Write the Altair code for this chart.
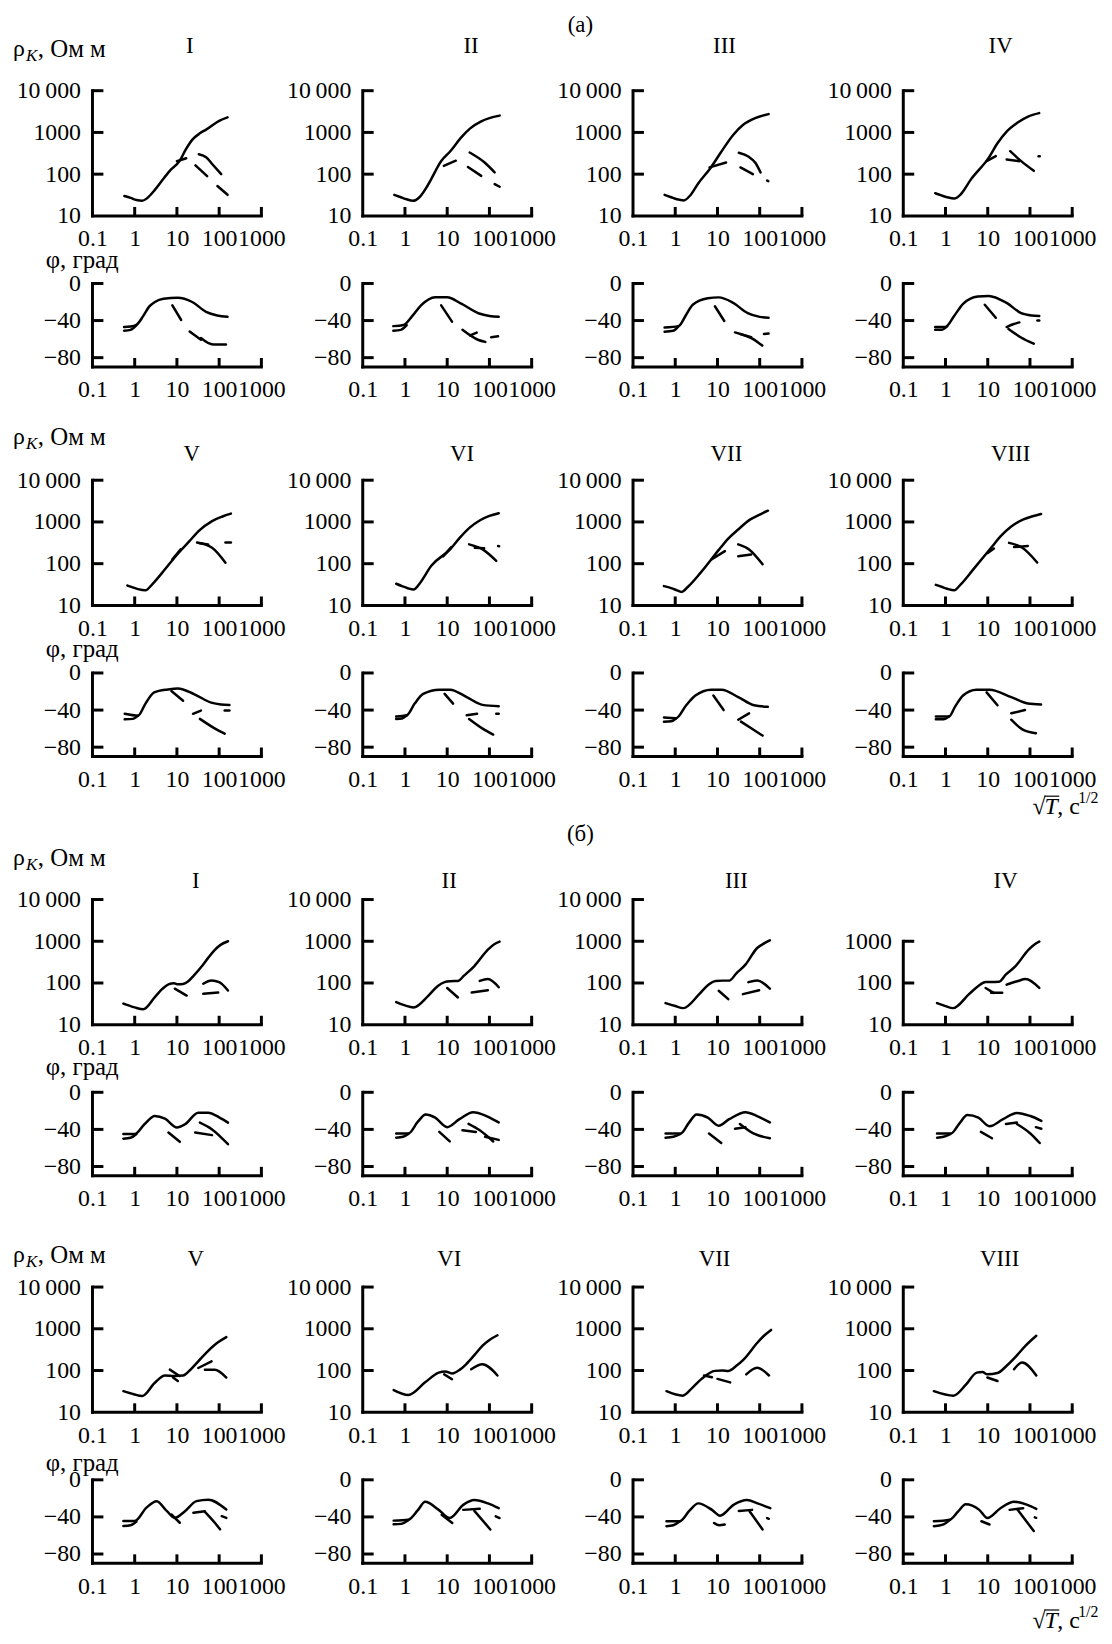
import altair as alt
import pandas as pd

FONT = "Liberation Serif"
X_TICKS = [0.1, 1, 10, 100, 1000]
RHO_TICKS = [10, 100, 1000, 10000]
PHI_TICKS = [0, -40, -80]
ROMAN = ["I", "II", "III", "IV", "V", "VI", "VII", "VIII"]
GROUP_LABEL = {"a": "(а)", "b": "(б)"}

# ---------- apparent resistivity, solid curves ----------
RHO_SOLID = {
    "a1": [(0.57, 30), (0.8, 27), (1.1, 24), (1.5, 23), (2, 27), (3, 42), (5, 82), (7, 125), (11.5, 205), (16, 380), (23.5, 680), (35, 950), (50, 1180), (100, 1900), (158, 2300)],
    "a2": [(0.56, 32), (0.8, 28), (1.1, 25), (1.55, 23), (2.2, 28), (3.5, 55), (7.3, 210), (12, 360), (21, 740), (35, 1250), (64, 1850), (100, 2200), (175, 2530)],
    "a3": [(0.56, 32), (0.8, 28), (1.1, 25), (1.6, 23.5), (2.2, 30), (3.5, 60), (7, 145), (12, 330), (23.5, 870), (40, 1500), (78, 2200), (162, 2750)],
    "a4": [(0.57, 35), (0.8, 31), (1.1, 28), (1.6, 26), (2.3, 33), (4, 75), (10.5, 245), (17, 550), (28, 1050), (50, 1700), (90, 2400), (165, 2900)],
    "a5": [(0.67, 30), (0.9, 27), (1.2, 24.5), (1.8, 23), (2.6, 32), (4.5, 61), (11, 183), (20, 350), (33, 610), (68, 1050), (120, 1350), (190, 1580)],
    "a6": [(0.62, 33), (0.85, 29), (1.2, 25.5), (1.6, 24), (2.3, 35), (4.2, 89), (11.7, 220), (20, 420), (33, 710), (60, 1100), (100, 1400), (166, 1620)],
    "a7": [(0.54, 29), (0.8, 26), (1.1, 23), (1.4, 21), (2, 28), (4, 61), (11, 220), (18, 400), (31, 660), (60, 1150), (100, 1500), (157, 1860)],
    "a8": [(0.59, 31), (0.8, 28), (1.1, 25), (1.6, 23), (2.3, 32), (4.6, 74), (13, 265), (20, 450), (36, 780), (70, 1150), (110, 1350), (183, 1550)],
    "b1": [(0.54, 32), (1, 26), (1.6, 23.5), (3, 46), (4.5, 72), (6.3, 93), (8.5, 98), (10.7, 93), (14, 95), (18.6, 110), (25, 150), (38, 245), (55, 400), (79, 620), (110, 830), (162, 1000)],
    "b2": [(0.62, 35), (1, 29), (1.6, 26), (3.6, 50), (6, 85), (8.7, 105), (12, 110), (18, 112), (25, 150), (44, 255), (92, 630), (130, 850), (174, 980)],
    "b3": [(0.59, 33), (1, 28), (1.55, 25), (3.7, 54), (6, 90), (9.1, 112), (13, 114), (19, 114), (28, 170), (46, 275), (87, 690), (130, 900), (174, 1050)],
    "b4": [(0.63, 33), (1, 28), (1.5, 25), (3.6, 54), (6, 85), (8.9, 105), (13, 106), (18.6, 107), (27, 160), (45, 250), (93, 630), (130, 850), (166, 980)],
    "b5": [(0.54, 32), (0.95, 27), (1.5, 24.5), (3, 51), (5.2, 76), (8.9, 74), (14, 76), (20, 100), (32, 166), (50, 270), (79, 415), (148, 630)],
    "b6": [(0.54, 34), (1.2, 26), (3, 52), (6.3, 89), (9, 95), (13, 85), (20, 105), (28, 141), (45, 240), (68, 390), (100, 540), (155, 700)],
    "b7": [(0.62, 32), (1.5, 25), (2.5, 38), (4.2, 63), (8.7, 98), (13, 100), (18, 98), (28, 130), (42, 186), (89, 470), (130, 700), (186, 940)],
    "b8": [(0.53, 32), (1.55, 25), (3, 45), (5.5, 89), (7.5, 92), (9.8, 81), (17, 87), (28, 130), (48, 225), (80, 400), (141, 680)],
}

# ---------- apparent resistivity, dashed pieces ----------
RHO_DASH = {
    "a1": [[(10, 204), (16.6, 240)], [(33, 300), (50, 250), (69, 173), (112, 100)], [(27.5, 163), (52, 90)], [(91, 52), (158, 32)]],
    "a2": [[(8.3, 158), (16, 210)], [(34, 330), (77, 190), (133, 110)], [(31, 148), (64, 91)], [(133, 58), (175, 50)]],
    "a3": [[(6.5, 145), (16, 190)], [(32, 325), (55, 260), (78, 190), (105, 110)], [(35, 145), (69, 100)], [(150, 70), (160, 68)]],
    "a4": [[(9.4, 205), (15.5, 270)], [(34, 355), (62, 205), (123, 120)], [(28, 225), (56, 205)], [(160, 270), (170, 270)]],
    "a5": [[(7.8, 127), (12.3, 220)], [(30, 320), (68, 240), (141, 105)], [(35, 310), (55, 290)], [(141, 320), (190, 320)]],
    "a6": [[(8, 150), (12.5, 250)], [(33, 290), (69, 220), (145, 117)], [(45, 240), (75, 235)], [(160, 265), (170, 262)]],
    "a7": [[(7.2, 126), (15, 200)], [(31, 290), (56, 220), (117, 97)], [(31, 150), (63, 166)]],
    "a8": [[(10, 180), (14, 230)], [(32, 315), (66, 240), (148, 107)], [(42, 250), (89, 265)]],
    "b1": [[(8.9, 73), (17, 50)], [(42, 55), (95, 59)], [(42, 96), (66, 115), (100, 105), (162, 66)]],
    "b2": [[(10, 76), (18, 45)], [(38, 59), (92, 67)], [(59, 112), (92, 124), (166, 79)]],
    "b3": [[(10.7, 65), (18, 41)], [(40, 54), (97, 67)], [(54, 105), (87, 115), (174, 73)]],
    "b4": [[(8.9, 76), (13.8, 58)], [(12, 58), (22, 58)], [(28, 91), (50, 110), (79, 124), (166, 76)]],
    "b5": [[(6.8, 105), (11.5, 74)], [(8.1, 68), (10.5, 56)], [(32, 115), (66, 166)], [(46, 105), (79, 105), (148, 68)]],
    "b6": [[(8.5, 81), (13, 62)], [(37, 107), (68, 141), (155, 76)]],
    "b7": [[(4.8, 76), (7.4, 69)], [(10, 63), (20, 52)], [(48, 81), (87, 117), (166, 76)]],
    "b8": [[(9.8, 68), (17, 56)], [(42, 107), (65, 155), (141, 76)]],
}

# ---------- impedance phase, solid curves ----------
PHI_SOLID = {
    "a1": [(0.56, -47), (0.8, -46.5), (1.1, -44.7), (1.6, -35), (2.2, -25), (3, -20), (4.8, -16.5), (10.4, -15.5), (23, -20), (49, -30.6), (90, -34.5), (158, -36)],
    "a2": [(0.53, -46), (0.93, -44.7), (1.5, -35), (2.4, -23.6), (5.2, -14.8), (10, -14.8), (21.5, -21.8), (57, -32.4), (100, -35), (166, -36)],
    "a3": [(0.56, -47.5), (1.2, -46), (1.8, -34), (2.6, -23), (5.9, -16), (10.7, -15), (23.6, -21), (52, -32), (100, -36), (162, -37)],
    "a4": [(0.57, -47), (0.98, -47), (1.6, -35), (2.6, -22), (5.8, -14), (10.5, -13.4), (28, -21), (62, -32), (110, -34.5), (166, -35)],
    "a5": [(0.58, -44), (1.2, -46), (1.8, -33), (2.9, -21), (6.1, -17.8), (10.5, -16.7), (26, -23), (65, -32), (110, -34), (175, -34.5)],
    "a6": [(0.62, -47), (1.1, -45.6), (1.7, -33), (2.7, -22.6), (6.6, -18), (11.7, -18), (29, -26), (69, -34.4), (166, -35.8)],
    "a7": [(0.54, -48), (1.05, -48.7), (1.8, -35), (3, -24.3), (7.1, -18), (12.6, -18), (31, -26), (74, -34.8), (155, -36.5)],
    "a8": [(0.59, -47), (1.2, -47), (1.7, -36), (2.6, -24.3), (5.4, -18), (11, -18), (36, -26), (89, -33), (183, -34)],
    "b1": [(0.54, -45), (1, -45), (1.7, -34.5), (3, -25.6), (5.2, -28.5), (10, -38), (15.5, -34.5), (32, -22), (55, -22), (100, -27), (162, -32.7)],
    "b2": [(0.62, -44.4), (1.2, -44.4), (2, -32), (3.1, -24), (5.2, -27.4), (10, -37.6), (19.5, -29), (41, -21.5), (85, -25.6), (166, -32.5)],
    "b3": [(0.59, -44.4), (1.35, -44.4), (2.1, -33), (3.2, -24), (5.9, -27.4), (10.7, -36), (19, -29), (46, -21.5), (87, -25.6), (174, -32.5)],
    "b4": [(0.63, -44.4), (1.35, -44.4), (2.1, -34), (3.3, -24.6), (6, -27.4), (11, -36.6), (23, -29), (49, -22.2), (102, -25.6), (186, -30.8)],
    "b5": [(0.54, -44.5), (1, -44.5), (1.9, -30), (3.3, -23), (5.8, -33.8), (8.9, -41), (15.5, -33.8), (29, -23), (55, -21.4), (148, -32)],
    "b6": [(0.54, -44), (1.2, -43), (2, -33), (3, -23.6), (6.3, -32.4), (11.5, -41.2), (24, -27), (44, -21.8), (92, -25.4), (166, -30.6)],
    "b7": [(0.62, -44.7), (1.26, -44.7), (2.2, -33), (3.5, -25.4), (7.4, -32.4), (11.5, -38.7), (24, -27), (50, -21.8), (89, -25.4), (178, -30.6)],
    "b8": [(0.53, -44.7), (1.26, -43), (2, -34), (3, -26.4), (6.3, -32.4), (9.8, -41.2), (20, -30.6), (42, -23.6), (87, -27), (141, -31.3)],
}

# ---------- impedance phase, dashed pieces (first piece = lower start branch) ----------
PHI_DASH = {
    "a1": [[(0.56, -51), (0.8, -50), (1.1, -45)], [(7.8, -23.6), (12.6, -39.4)], [(20, -51.8), (37, -60.6)], [(37, -58.8), (72, -65.8), (145, -65.8)]],
    "a2": [[(0.53, -51), (0.8, -50), (1.1, -45)], [(7.2, -23.6), (13, -41.2)], [(23, -50), (55, -61), (80, -63)], [(35, -56), (50, -53)], [(110, -58), (160, -57)]],
    "a3": [[(0.56, -52), (0.9, -51), (1.2, -46)], [(8.7, -24.6), (14.5, -40.5)], [(26, -52.8), (63, -58)], [(35, -54.6), (70, -60), (115, -67)], [(126, -54.6), (162, -54)]],
    "a4": [[(0.57, -50), (0.8, -50), (1.1, -46)], [(8.5, -23), (15.5, -37)], [(28, -47), (40, -44), (56, -42)], [(31, -49), (60, -58), (123, -65)], [(150, -40), (166, -40)]],
    "a5": [[(0.58, -50), (0.9, -49.5), (1.2, -46)], [(7.4, -19.5), (14, -30)], [(24, -44), (37, -40.5)], [(35, -49.5), (80, -60), (135, -65.5)], [(135, -40.5), (175, -40.5)]],
    "a6": [[(0.62, -49.6), (0.85, -49), (1.1, -46)], [(8.7, -22.6), (13.8, -33)], [(29, -45.6), (51, -44)], [(33, -49.6), (69, -60), (123, -66.4)], [(145, -44), (166, -44)]],
    "a7": [[(0.54, -52.5), (0.8, -52), (1.05, -49)], [(8, -24.3), (14, -40)], [(31, -50.4), (56, -43.5)], [(36, -52.5), (70, -61), (117, -67.5)]],
    "a8": [[(0.59, -50), (0.9, -50), (1.2, -47)], [(9.4, -20.9), (17, -34.8)], [(36, -43.5), (76, -40)], [(36, -50.4), (66, -60.8), (138, -65)]],
    "b1": [[(0.54, -50), (0.8, -49), (1.1, -45)], [(6.3, -43.4), (11.7, -53.4)], [(27, -43.4), (68, -46.2)], [(35, -32.7), (68, -40), (162, -56)]],
    "b2": [[(0.62, -49), (0.9, -48), (1.2, -45)], [(6.5, -42.7), (11.5, -53)], [(23, -41), (48, -42.7)], [(32, -34), (59, -41), (123, -53)], [(79, -47.9), (166, -51.3)]],
    "b3": [[(0.59, -49), (0.9, -48), (1.3, -45)], [(6.3, -44.4), (12.3, -54.7)], [(26, -39.3), (46, -37.6)], [(34, -34.2), (71, -44.4), (174, -49.6)]],
    "b4": [[(0.63, -49), (0.9, -48), (1.3, -45)], [(6.9, -42.7), (12.6, -49.6)], [(27, -34.2), (49, -32.5)], [(49, -34.2), (102, -44.4), (170, -54.7)], [(138, -37.6), (186, -39.3)]],
    "b5": [[(0.54, -49.8), (0.8, -49), (1.1, -45)], [(7.4, -37.4), (11.7, -46.3)], [(24.5, -35.6), (46, -33.8)], [(46, -34.5), (79, -46.3), (105, -53.4)], [(115, -39.2), (148, -41)]],
    "b6": [[(0.54, -48), (0.8, -47.5), (1.2, -43.5)], [(7.4, -37.7), (13.2, -46.5)], [(24, -32.4), (59, -31.3)], [(44, -33.5), (105, -53.5)], [(141, -39.4), (174, -41.2)]],
    "b7": [[(0.62, -50), (0.9, -49), (1.26, -45)], [(8.3, -46.5), (11, -49), (14.8, -48.2)], [(32, -33.5), (66, -32.4)], [(58, -34.1), (117, -53.5)], [(150, -41.2), (165, -42)]],
    "b8": [[(0.53, -50), (0.9, -48), (1.26, -43.5)], [(7.1, -44.7), (11, -48.2)], [(33, -32.4), (69, -30.6)], [(51, -32.4), (123, -55.2)], [(130, -40.5), (140, -41)]],
}

# horizontal offset of the roman numeral above each panel (px from plot left)
TITLE_DX = {"a": [98, 109, 92, 98, 100, 100, 94, 108], "b": [104, 87, 104, 103, 104, 87, 82, 97]}
TITLE_DY = {"a": [-45, -26], "b": [-19, -28]}
RHO_LBL_DY = {"a": [-42, -43], "b": [-42, -32]}
PHI_LBL_DY = {"a": [-24, -24], "b": [-25, -17]}
GROUP_DY = {"a": -66, "b": -66}
SQRT_DY = {"a": 58, "b": 65}

W, H1, H2 = 170, 126, 84
# empty space above each plot row (a-rho1, a-phi1, a-rho2, a-phi2, b-rho1, ...)
GAP_ABOVE = [0, 68, 114, 68, 144, 68, 112, 68]
AXW = 3
LW = 2.5
FS = 24


def txt(s, x, y, size=FS, align="left", baseline="middle", style="normal"):
    return alt.Chart(pd.DataFrame({"t": [s]})).mark_text(
        font=FONT, fontSize=size, align=align, baseline=baseline, fontStyle=style, color="black"
    ).encode(text="t:N", x=alt.value(x), y=alt.value(y))


def lines_df(solid, pieces):
    rows = []
    for s, seg in enumerate([solid] + pieces):
        for i, (x, y) in enumerate(seg):
            rows.append({"x": x, "y": y, "seg": s, "i": i})
    return pd.DataFrame(rows)


def panel(kind, key, gap, extra):
    xs = alt.Scale(type="log", domain=[0.1, 1000], nice=False)
    if kind == "rho":
        H = H1
        ys = alt.Scale(type="log", domain=[10, 10000], nice=False, range=[gap + H, gap])
        ytop = 1000 if key == "b4" else 10000
        yvals = [v for v in RHO_TICKS if v <= ytop]
        ytick = [v for v in yvals if v > 10]
        ybot = 10
        df = lines_df(RHO_SOLID[key], RHO_DASH[key])
        ylab = "datum.value == 10000 ? '10\u2009000' : datum.label"
    else:
        H = H2
        ys = alt.Scale(domain=[-90, 0], nice=False, zero=False, range=[gap + H, gap])
        ytop = 0
        yvals = PHI_TICKS
        ytick = PHI_TICKS
        ybot = -90
        df = lines_df(PHI_SOLID[key], PHI_DASH[key])
        ylab = "datum.label"

    common = dict(domain=False, ticks=False, grid=False, title=None, labelFont=FONT,
                  labelFontSize=FS, labelColor="black", labelOverlap=False, labelFlush=False,
                  labelBound=False)
    xaxis = alt.Axis(values=X_TICKS, format="~g", labelPadding=11, **common)
    yaxis = alt.Axis(values=yvals, format="~g" if kind == "rho" else "d", labelExpr=ylab,
                     labelPadding=12, **common)

    lines = alt.Chart(df).mark_line(color="black", strokeWidth=LW, interpolate="monotone",
                                    strokeCap="round").encode(
        x=alt.X("x:Q", scale=xs, axis=xaxis),
        y=alt.Y("y:Q", scale=ys, axis=yaxis),
        detail="seg:N",
        order="i:Q",
    )
    yline = alt.Chart(pd.DataFrame({"a": [ytop], "b": [ybot]})).mark_rule(
        color="black", strokeWidth=AXW, strokeCap="square").encode(
        x=alt.value(0), y=alt.Y("a:Q", scale=ys, axis=yaxis), y2="b:Q")
    xline = alt.Chart(pd.DataFrame({"a": [0.1], "b": [1000]})).mark_rule(
        color="black", strokeWidth=AXW, strokeCap="square").encode(
        y=alt.value(gap + H), x=alt.X("a:Q", scale=xs, axis=xaxis), x2="b:Q")
    xt = alt.Chart(pd.DataFrame({"v": X_TICKS[1:]})).mark_rule(
        color="black", strokeWidth=AXW).encode(
        x=alt.X("v:Q", scale=xs, axis=xaxis), y=alt.value(gap + H), y2=alt.value(gap + H - 9))
    yt = alt.Chart(pd.DataFrame({"v": ytick})).mark_rule(
        color="black", strokeWidth=AXW).encode(
        y=alt.Y("v:Q", scale=ys, axis=yaxis), x=alt.value(0), x2=alt.value(11))
    layers = [lines, yline, xline, xt, yt] + extra
    return alt.layer(*layers).properties(width=W, height=gap + H)


panels = []
for gi, g in enumerate(["a", "b"]):
    for r in range(2):
        rho_row, phi_row = [], []
        g_rho = GAP_ABOVE[gi * 4 + r * 2]
        g_phi = GAP_ABOVE[gi * 4 + r * 2 + 1]
        for c in range(4):
            idx = r * 4 + c
            key = f"{g}{idx + 1}"
            rho_extra = [txt(ROMAN[idx], TITLE_DX[g][idx], g_rho + TITLE_DY[g][r], size=23, align="center")]
            phi_extra = []
            if c == 0:
                y0 = g_rho + RHO_LBL_DY[g][r]
                rho_extra += [
                    txt("ρ", -80, y0),
                    txt("K", -67, y0 + 7, size=17, style="italic"),
                    txt(", Ом м", -55, y0, size=25),
                ]
                phi_extra.append(txt("φ, град", -47, g_phi + PHI_LBL_DY[g][r], size=25))
            if c == 0 and r == 0:
                rho_extra.append(txt(GROUP_LABEL[g], 491, g_rho + GROUP_DY[g], size=23, align="center"))
            if c == 3 and r == 1:
                by = g_phi + H2 + SQRT_DY[g]
                phi_extra += [
                    txt("√", 130, by, baseline="alphabetic"),
                    txt("T", 142, by, baseline="alphabetic", style="italic"),
                    alt.Chart(pd.DataFrame({"t": [0]})).mark_rule(color="black", strokeWidth=1.2).encode(
                        x=alt.value(142), x2=alt.value(157), y=alt.value(by - 18)),
                    txt(", с", 155, by, baseline="alphabetic"),
                    txt("1/2", 176, by - 11, size=16, baseline="alphabetic"),
                ]
            rho_row.append(panel("rho", key, g_rho, rho_extra))
            phi_row.append(panel("phi", key, g_phi, phi_extra))
        panels += rho_row + phi_row

chart = alt.concat(*panels, columns=4, spacing={"row": 0, "column": 102}, bounds="flush").properties(
    padding={"left": 5, "top": 1, "right": 5, "bottom": 5}
).configure_view(stroke=None).configure_axis(labelFont=FONT)

chart.save("out.html", embed_options={"renderer": "svg", "actions": False})
